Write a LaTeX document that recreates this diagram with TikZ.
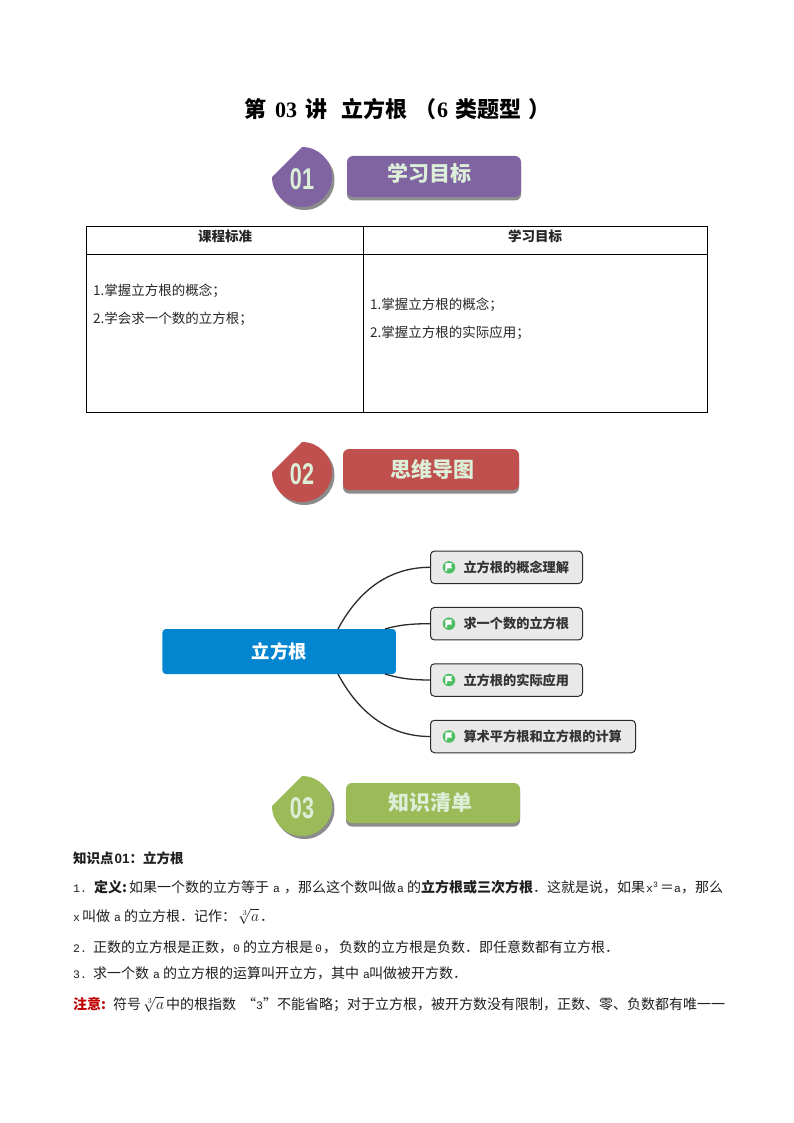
\documentclass[tikz,border=0pt]{standalone}
\usepackage{fontspec}
\setmainfont{Noto Sans CJK SC}
\newfontfamily\lat{Liberation Mono}
\newfontfamily\serifb{Liberation Serif}
\newfontfamily\sansb{Liberation Sans}
\newcommand{\sg}[2]{\makebox[#1pt][l]{#2}}
\newcommand{\la}[1]{{\lat\fontsize{11.5}{14}\selectfont #1}}
\newcommand{\rad}{\scalebox{1.08}{$\sqrt[3]{a}$}}
\definecolor{cPurple}{HTML}{8064A2}
\definecolor{cRed}{HTML}{C0504D}
\definecolor{cGreen}{HTML}{9BBB59}
\definecolor{cShadow}{HTML}{8C8C8C}
\definecolor{cLabel}{HTML}{DCEFD8}
\definecolor{cRoot}{HTML}{0485CF}
\definecolor{cLeaf}{HTML}{E9E9E9}
\definecolor{cLine}{HTML}{2B2B2B}
\definecolor{cFlag}{HTML}{4DBF62}
\definecolor{cNote}{HTML}{C00000}
\tikzset{
  body/.style={anchor=base west,inner sep=0pt,font=\fontsize{14}{16}\selectfont,text=black!88},
  cell/.style={anchor=base west,inner sep=0pt,font=\fontsize{13.5}{16}\selectfont,text=black!85},
  head/.style={inner sep=0pt,font=\fontsize{13.5}{16}\selectfont\bfseries,text=black!85},
  digits/.style={inner sep=0pt,xscale=.72,font=\sansb\fontsize{30}{32}\selectfont\bfseries,text=cLabel},
  bannertext/.style={inner sep=0pt,font=\fontsize{21}{24}\selectfont\bfseries,text=cLabel},
  leaf/.style={draw=cLine,line width=1pt,fill=cLeaf,rounded corners=4pt,anchor=west,inner sep=0pt,minimum height=32.5pt,font=\fontsize{13.2}{15}\selectfont\bfseries,text=black!80},
  flag/.style={circle,fill=cFlag,minimum size=12.5pt,inner sep=0pt},
  link/.style={draw=cLine,line width=1.3pt},
  rule/.style={draw=black,line width=.8pt}
}
\newcommand{\badge}[5]{% cx, cy, colour, name, digits
  \fill[cShadow] (#1+2.5,#2-30+3) arc[start angle=-90,end angle=180,radius=30] -- cycle;
  \fill[#3] (#1,#2-30) arc[start angle=-90,end angle=180,radius=30] -- cycle;
  \node[digits] (#4) at (#1,#2+2) {#5};
}
\newcommand{\banner}[5]{% x1,y1,x2,y2,colour
  \fill[cShadow,rounded corners=6pt] (#1,#2+4) rectangle (#3,#4+3.5);
  \fill[#5,rounded corners=6pt] (#1,#2) rectangle (#3,#4);
}
\newcommand{\flagmark}[2]{% name, leaf
  \node[flag] (#1) at ([xshift=19pt]#2.west) {};
  \fill[white,rounded corners=.6pt] ([xshift=-3.6pt,yshift=4.2pt]#1.center) -- ++(6.8,0) -- ++(-1.2,2.6) -- ++(1.2,2.6) -- ++(-5.2,0) -- ++(0,3) -- ++(-1.6,0) -- cycle;
}
\begin{document}
\begin{tikzpicture}[x=1pt,y=-1pt]
\useasboundingbox[fill=white] (0,0) rectangle (794,1123);

% title
\node[anchor=base west,inner sep=0pt,font=\fontsize{22}{26}\selectfont\bfseries,text=black] (title) at (244,118)
 {\sg{31}{第}\sg{30}{\serifb\bfseries 03}\sg{36}{讲}立方根\sg{30}{\hspace{7pt}（}\sg{18}{\serifb\bfseries 6}类题型\hspace{7pt}）};

% section headers
\badge{302}{177}{cPurple}{num1}{01}
\banner{347}{156}{521}{197}{cPurple}
\node[bannertext] (ban1) at (429,173) {学习目标};

\badge{302}{472}{cRed}{num2}{02}
\banner{343}{449}{519}{490}{cRed}
\node[bannertext] (ban2) at (432,469) {思维导图};

\badge{302}{806}{cGreen}{num3}{03}
\banner{346}{783}{520}{823}{cGreen}
\node[bannertext] (ban3) at (430,803) {知识清单};

% table
\draw[rule] (86,226) rectangle (707.5,412);
\draw[rule] (86,254) -- (707.5,254);
\draw[rule] (363,226) -- (363,412);
\node[head] (h1) at (225,236) {课程标准};
\node[head] (h2) at (535,236) {学习目标};
\node[cell] (c1) at (93,295) {1.掌握立方根的概念；};
\node[cell] (c2) at (93,323) {2.学会求一个数的立方根；};
\node[cell] (c3) at (370,309) {1.掌握立方根的概念；};
\node[cell] (c4) at (370,337) {2.掌握立方根的实际应用；};

% mind map
\node[fill=cRoot,rounded corners=3.5pt,minimum width=233.5pt,minimum height=45pt,inner sep=0pt,
      font=\fontsize{18.3}{22}\selectfont\bfseries,text=white] (root) at (279.2,651.5) {立方根};
\node[leaf] (l1) at (430,567.3) {\sg{152}{\hspace{33pt}立方根的概念理解}};
\node[leaf] (l2) at (430,623.7) {\sg{152}{\hspace{33pt}求一个数的立方根}};
\node[leaf] (l3) at (430,680) {\sg{152}{\hspace{33pt}立方根的实际应用}};
\node[leaf] (l4) at (430,736.5) {\sg{205}{\hspace{33pt}算术平方根和立方根的计算}};
\flagmark{f1}{l1}
\flagmark{f2}{l2}
\flagmark{f3}{l3}
\flagmark{f4}{l4}
\coordinate (r1) at (338,629);
\coordinate (r2) at (385,629);
\coordinate (r3) at (385,674);
\coordinate (r4) at (338,674);
\draw[link] (l1.west) .. controls +(-48,0) and +(16,-30) .. (r1);
\draw[link] (l2.west) .. controls +(-22,0) and +(12,-3.5) .. (r2);
\draw[link] (l3.west) .. controls +(-22,0) and +(12,3.5) .. (r3);
\draw[link] (l4.west) .. controls +(-48,0) and +(16,30) .. (r4);

% knowledge list
\node[body,font=\fontsize{13.5}{16}\selectfont\bfseries] (k0) at (73,863) {知识点\hspace{1pt}{\sansb\bfseries 01}：立方根};
\node[body] (k1) at (73,892) {\sg{21}{\la{1.}}\sg{35}{\textbf{定义:}}如果一个数的立方等于\sg{15}{\hspace{4pt}\la{a}}，那么这个数叫做\sg{11}{\hspace{1pt}\la{a}}的\textbf{立方根或三次方根}．这就是说，如果\sg{15}{\hspace{1pt}\la{x\textsuperscript{3}}}＝\sg{7}{\la{a}}，那么};
\node[body] (k2) at (73,921) {\sg{9}{\la{x}}叫做\sg{14}{\hspace{4pt}\la{a}}的立方根．记作：\hspace{2pt}\sg{22}{\rad}．};
\node[body] (k3) at (73,952) {\sg{20}{\la{2.}}正数的立方根是正数，\sg{10}{\la{0}}的立方根是\sg{10}{\hspace{2pt}\la{0}}，\hspace{2pt}负数的立方根是负数．即任意数都有立方根．};
\node[body] (k4) at (73,978) {\sg{20}{\la{3.}}求一个数\sg{14}{\hspace{4pt}\la{a}}的立方根的运算叫开立方，其中\sg{10}{\hspace{4pt}\la{a}}叫做被开方数．};
\node[body] (k5) at (73,1009) {\sg{40}{\textcolor{cNote}{\textbf{注意:}}}符号\hspace{2pt}\sg{23}{\rad}中的根指数\hspace{6pt}“\la{3}”\hspace{0pt}不能省略；对于立方根，被开方数没有限制，正数、零、负数都有唯一一};
\end{tikzpicture}
\end{document}
